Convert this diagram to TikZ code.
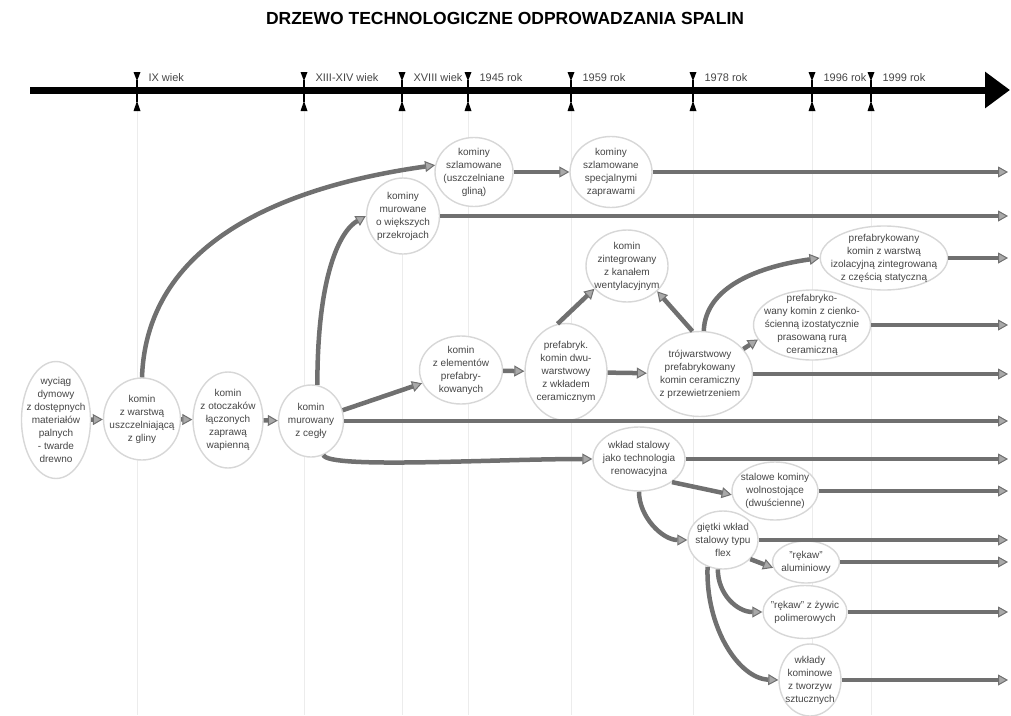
\documentclass[tikz,border=0pt]{standalone}
\usepackage{fontspec}
\setmainfont{Liberation Sans}
\usetikzlibrary{shapes.geometric, arrows.meta}

\definecolor{linia}{RGB}{112,112,112}
\definecolor{obrys}{RGB}{215,215,215}
\definecolor{siatkakol}{RGB}{236,236,236}
\definecolor{tekst}{RGB}{70,70,70}

\begin{document}
\begin{tikzpicture}[x=1pt, y=-1pt,
  wezel/.style={ellipse, draw=obrys, line width=1.4pt, fill=white,
    inner xsep=-8pt, inner ysep=-6pt, align=center, text=tekst,
    font=\fontsize{10}{13}\selectfont},
  wym/.style 2 args={minimum width=#1pt, minimum height=#2pt},
  strz/.style={draw=linia, line width=4.5pt,
    -{Triangle[length=10pt, width=11pt, line width=1pt, fill=linia!60]}},
  siatka/.style={draw=siatkakol, line width=1pt}]
  \useasboundingbox (0,0) rectangle (1011,715);

  % Tytuł
  \node[font=\bfseries\fontsize{17.5}{20}\selectfont] (tytul) at (505,18)
    {DRZEWO TECHNOLOGICZNE ODPROWADZANIA SPALIN};

  % Linie pomocnicze i oś czasu
  \foreach \x/\t in {137/IX wiek, 304/XIII-XIV wiek, 402/XVIII wiek, 468/1945 rok,
                     571/1959 rok, 693/1978 rok, 812/1996 rok, 871/1999 rok} {
    \draw[siatka] (\x,110) -- (\x,715);
    \fill (\x-3.5,72) -- (\x+3.5,72) -- (\x,81) -- cycle;
    \draw[line width=1.5pt] (\x,80) -- (\x,88);
    \fill (\x-3.5,111) -- (\x+3.5,111) -- (\x,101) -- cycle;
    \draw[line width=1.5pt] (\x,92) -- (\x,102);
    \node[anchor=west, text=tekst, font=\fontsize{11}{12}\selectfont] at (\x+8,78) {\t};
  }
  \coordinate (os1) at (30,90);
  \coordinate (os2) at (1010,90);
  \draw[line width=7pt, -{Triangle[length=25pt, width=35pt]}] (os1) -- (os2);
  \coordinate (kon) at (1008,0);

  % Węzły
  \node[wezel, wym={69}{117}] (n1) at (56,420) {wyciąg\\dymowy\\z dostępnych\\materiałów\\palnych\\- twarde\\drewno};
  \node[wezel, wym={77}{82}] (n2) at (142,419) {komin\\z warstwą\\uszczelniającą\\z gliny};
  \node[wezel, wym={70}{96}] (n3) at (228,420) {komin\\z otoczaków\\łączonych\\zaprawą\\wapienną};
  \node[wezel, wym={65}{72}] (n4) at (311,421) {komin\\murowany\\z cegły};
  \node[wezel, wym={78}{69}] (n5) at (474,172) {kominy\\szlamowane\\(uszczelniane\\gliną)};
  \node[wezel, wym={82}{71}] (n6) at (611,172) {kominy\\szlamowane\\specjalnymi\\zaprawami};
  \node[wezel, wym={73}{76}] (n7) at (403,216) {kominy\\murowane\\o większych\\przekrojach};
  \node[wezel, wym={82}{72}] (n8) at (627,266) {komin\\zintegrowany\\z kanałem\\wentylacyjnym};
  \node[wezel, wym={83}{68}] (n9) at (461,370) {komin\\z elementów\\prefabry-\\kowanych};
  \node[wezel, wym={82}{97}] (n10) at (566,372) {prefabryk.\\komin dwu-\\warstwowy\\z wkładem\\ceramicznym};
  \node[wezel, wym={105}{85}] (n11) at (700,374) {trójwarstwowy\\prefabrykowany\\komin ceramiczny\\z przewietrzeniem};
  \node[wezel, wym={125}{64}] (n12) at (884,258) {prefabrykowany\\komin z warstwą\\izolacyjną zintegrowaną\\z częścią statyczną};
  \node[wezel, wym={117}{70}] (n13) at (812,325) {prefabryko-\\wany komin z cienko-\\ścienną izostatycznie\\prasowaną rurą\\ceramiczną};
  \node[wezel, wym={92}{64}] (n14) at (639,459) {wkład stalowy\\jako technologia\\renowacyjna};
  \node[wezel, wym={86}{58}] (n15) at (775,491) {stalowe kominy\\wolnostojące\\(dwuścienne)};
  \node[wezel, wym={70}{58}] (n16) at (723,540) {giętki wkład\\stalowy typu\\flex};
  \node[wezel, wym={67}{42}] (n17) at (806,562) {"rękaw"\\aluminiowy};
  \node[wezel, wym={84}{53}] (n18) at (805,612) {"rękaw" z żywic\\polimerowych};
  \node[wezel, wym={62}{72}] (n19) at (810,680) {wkłady\\kominowe\\z tworzyw\\sztucznych};

  % Połączenia
  \draw[strz] (n1) -- (n2);
  \draw[strz] (n2) -- (n3);
  \draw[strz] (n3) -- (n4);
  \draw[strz] (n2.north) to[out=88, in=188] (n5.170);
  \draw[strz] (n4.80) to[out=90, in=210, out distance=110pt, in distance=30pt] (n7.west);
  \draw[strz] (n4) -- (n9);
  \draw[strz] (n4.290) to[out=-70, in=180, out distance=15pt, in distance=100pt] (n14.west);
  \draw[strz] (n5) -- (n6);
  \draw[strz] (n9) -- (n10);
  \draw[strz] (n10.100) -- (n8.215);
  \draw[strz] (n10) -- (n11);
  \draw[strz] (n11.100) -- (n8.-40);
  \draw[strz] (n11.85) to[out=88, in=188, out distance=45pt, in distance=60pt] (n12.west);
  \draw[strz] (n11.30) -- (n13.195);
  \draw[strz] (n14.-35) -- (n15.185);
  \draw[strz] (n14.south) to[out=-90, in=180, out distance=25pt, in distance=25pt] (n16.west);
  \draw[strz] (n16.-35) -- (n17.190);
  \draw[strz] (n16.-100) to[out=-90, in=180, out distance=25pt, in distance=25pt] (n18.west);
  \draw[strz] (n16.-120) to[out=-92, in=178, out distance=60pt, in distance=40pt] (n19.west);

  % Linie do prawej krawędzi
  \foreach \n in {n4,n6,n7,n11,n12,n13,n14,n15,n16,n17,n18,n19}
    \draw[strz] (\n.east) -- (\n.east -| kon);
\end{tikzpicture}
\end{document}
